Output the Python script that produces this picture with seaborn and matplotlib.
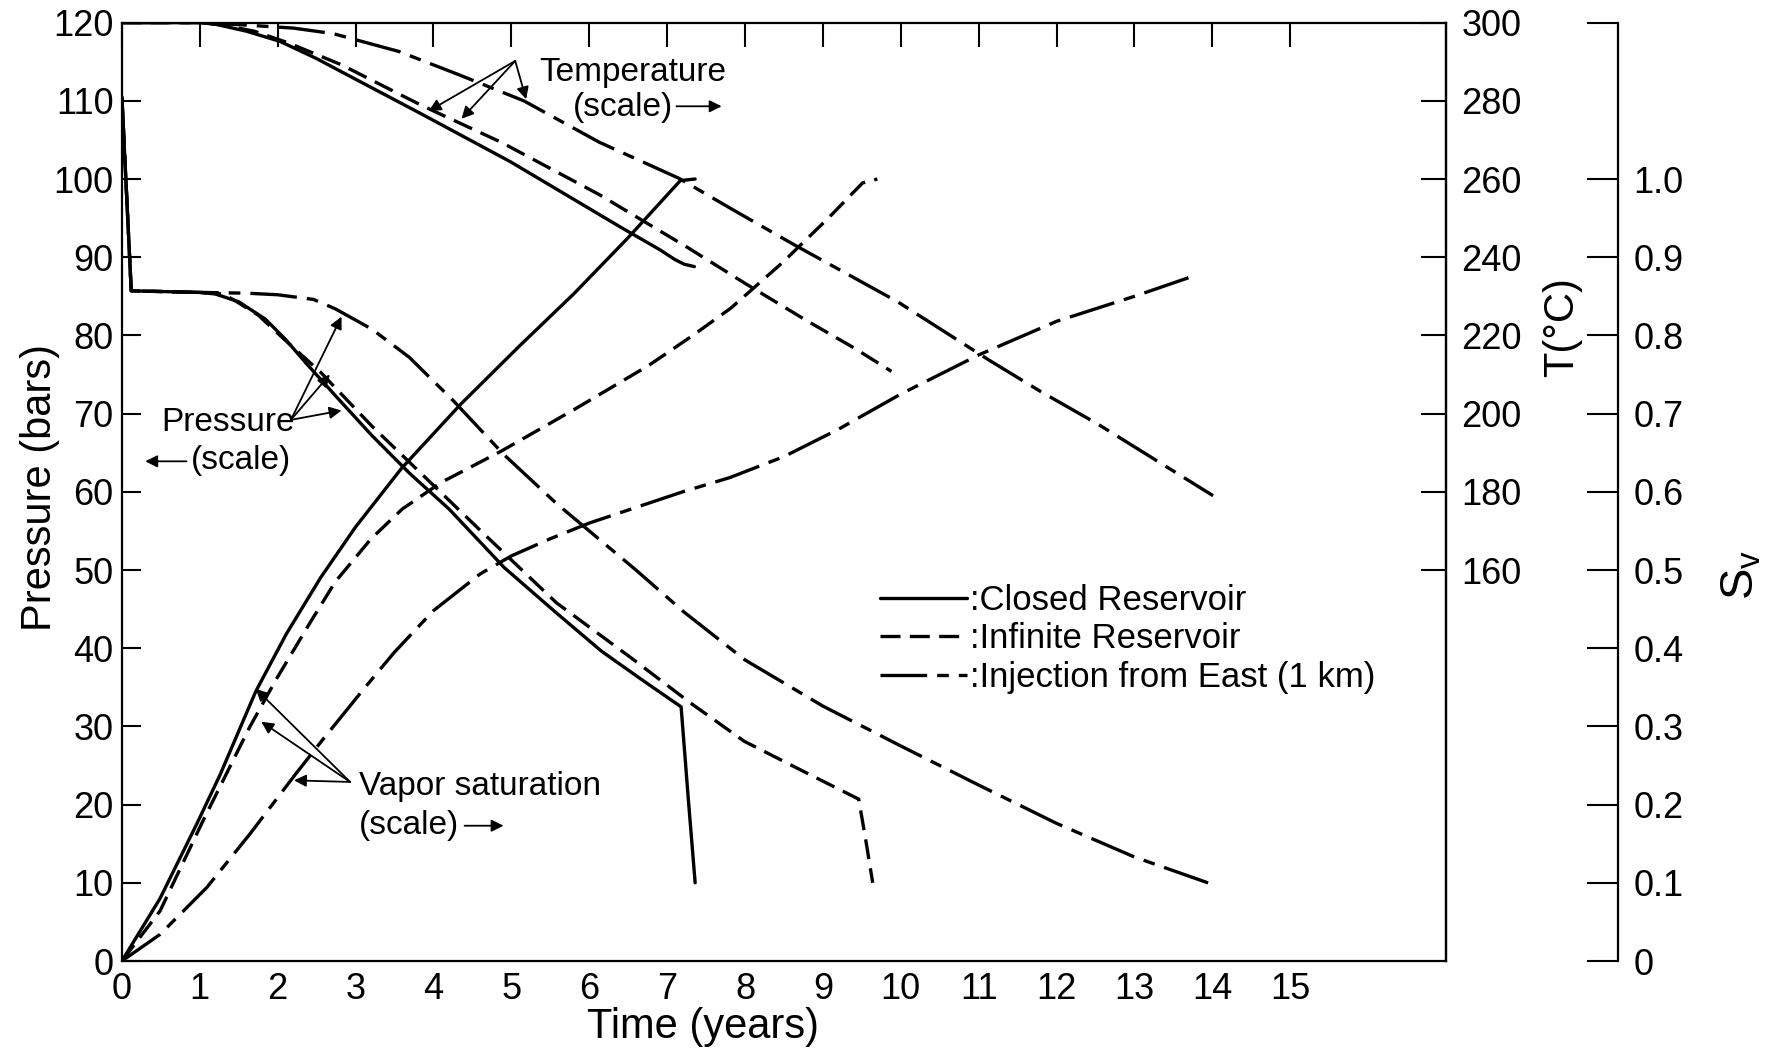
import numpy as np
import pandas as pd
import matplotlib
matplotlib.use("Agg")
import matplotlib.pyplot as plt
from matplotlib.lines import Line2D
import seaborn as sns

# Cases (legend order)
cases = ["Closed Reservoir", "Infinite Reservoir", "Injection from East (1 km)"]

# Pressure (bars) vs time (years)
p_closed_t = [0, 0.12, 1.0, 1.2, 1.5, 1.84, 2.1, 2.36, 2.75, 3.2, 3.69, 4.2, 4.91, 5.58, 6.16, 6.7, 7.18, 7.27, 7.36]
p_closed = [110.5, 85.7, 85.5, 85.3, 84.3, 82.1, 79.5, 76.5, 72.2, 67.3, 62.4, 57.8, 50.3, 44.5, 39.6, 35.8, 32.5, 21.0, 10.0]
p_infinite_t = [0, 0.12, 1.0, 1.3, 1.46, 1.75, 2.03, 2.55, 3.21, 3.92, 4.64, 5.58, 6.52, 7.3, 7.99, 8.8, 9.46, 9.55, 9.64]
p_infinite = [110.5, 85.7, 85.5, 85.3, 84.4, 82.6, 80.0, 75.3, 68.4, 61.6, 54.7, 45.8, 38.9, 33.0, 28.1, 24.0, 20.7, 15.5, 10.0]
p_inject_t = [0, 0.12, 1.0, 1.6, 2.0, 2.46, 2.74, 3.21, 3.69, 4.26, 4.9, 5.58, 6.0, 6.6, 7.22, 8.0, 9.0, 10.0, 11.0, 12.0, 13.0, 14.0]
p_inject = [110.5, 85.7, 85.5, 85.4, 85.2, 84.6, 83.4, 80.8, 77.2, 71.6, 64.8, 58.5, 55.0, 50.0, 44.6, 38.5, 32.6, 27.5, 22.5, 17.6, 13.3, 9.8]

# Temperature (deg C) vs time
t_closed_t = [0, 1.0, 1.2, 1.6, 2.03, 2.5, 3.05, 3.85, 4.99, 6.41, 6.9, 7.1, 7.22, 7.35]
t_closed = [300, 300, 299.6, 297.8, 295.2, 290.8, 285, 276.6, 264.4, 247.6, 242, 239.4, 238.2, 237.6]
t_infinite_t = [0, 1.0, 1.29, 1.7, 2.14, 2.82, 3.85, 4.87, 6.13, 7.27, 8.01, 8.79, 9.4, 9.88]
t_infinite = [300, 300, 299.4, 297.8, 294.8, 289.2, 278.8, 269.4, 256, 242.4, 233.2, 223.8, 216.8, 210.8]
t_inject_t = [0, 1.0, 1.57, 2.2, 2.71, 3.56, 4.31, 5.16, 6.13, 7.15, 7.84, 8.63, 9.96, 11.14, 11.8, 12.54, 14.01]
t_inject = [300, 300, 299.4, 298.6, 297.2, 292.6, 286.8, 280, 269.4, 260.2, 252.2, 243.2, 228.6, 213.6, 205.6, 197.2, 179]

# Vapor saturation vs time
s_closed_t = [0, 0.49, 0.96, 1.26, 1.72, 2.11, 2.55, 3.0, 3.59, 4.35, 5.11, 5.8, 6.5, 7.17, 7.36]
s_closed = [0, 0.08, 0.175, 0.238, 0.345, 0.418, 0.49, 0.555, 0.63, 0.712, 0.787, 0.853, 0.925, 0.998, 1.0]
s_infinite_t = [0, 0.49, 1.04, 1.64, 1.98, 2.40, 2.74, 3.2, 3.6, 4.1, 4.87, 5.82, 6.77, 7.33, 7.82, 8.48, 9.07, 9.51, 9.70]
s_infinite = [0, 0.064, 0.179, 0.299, 0.36, 0.43, 0.485, 0.54, 0.578, 0.612, 0.652, 0.706, 0.762, 0.80, 0.835, 0.893, 0.95, 0.995, 1.0]
s_inject_t = [0, 0.49, 1.09, 1.64, 2.23, 2.57, 3.09, 3.5, 4.0, 4.6, 5.0, 5.5, 6.0, 6.6, 7.2, 7.8, 8.5, 9.2, 10.0, 11.0, 12.0, 13.0, 13.76]
s_inject = [0, 0.034, 0.094, 0.162, 0.239, 0.282, 0.346, 0.395, 0.448, 0.495, 0.518, 0.54, 0.56, 0.58, 0.60, 0.618, 0.645, 0.68, 0.725, 0.775, 0.818, 0.85, 0.876]

x_ticks = list(range(0, 16))
p_ticks = list(range(0, 130, 10))
temp_ticks = list(range(160, 320, 20))
sv_ticks = [0, 0.1, 0.2, 0.3, 0.4, 0.5, 0.6, 0.7, 0.8, 0.9, 1.0, 1.2]
sv_labels = ["0", "0.1", "0.2", "0.3", "0.4", "0.5", "0.6", "0.7", "0.8", "0.9", "1.0", ""]


def long_form(pairs):
    frames = []
    for name, (tt, vv) in zip(cases, pairs):
        frames.append(pd.DataFrame({"time": tt, "value": vv, "case": name}))
    return pd.concat(frames, ignore_index=True)


pressure_df = long_form([(p_closed_t, p_closed), (p_infinite_t, p_infinite), (p_inject_t, p_inject)])
temp_df = long_form([(t_closed_t, t_closed), (t_infinite_t, t_infinite), (t_inject_t, t_inject)])
sat_df = long_form([(s_closed_t, s_closed), (s_infinite_t, s_infinite), (s_inject_t, s_inject)])

sns.set_theme(style="white", rc={"axes.edgecolor": "black", "text.color": "black",
                                 "xtick.color": "black", "ytick.color": "black",
                                 "axes.labelcolor": "black"})
plt.rcParams["font.family"] = ["Liberation Sans", "DejaVu Sans"]

LW = 2.4
dash_map = {cases[0]: "", cases[1]: (6, 2.8), cases[2]: (14, 3, 3.5, 3)}

fig = plt.figure(figsize=(17.69, 10.52), dpi=100)
ax = fig.add_axes([0.0689, 0.0865, 0.8174 - 0.0689, 0.9785 - 0.0865])
ax_t = ax.twinx()
ax_s = ax.twinx()

common = dict(x="time", y="value", style="case", dashes=dash_map, color="black",
              estimator=None, sort=False, legend=False, linewidth=LW)
sns.lineplot(data=pressure_df, ax=ax, **common)
sns.lineplot(data=temp_df, ax=ax_t, **common)
sns.lineplot(data=sat_df, ax=ax_s, **common)

# main (pressure) axis
ax.set_xlim(0, 17)
ax.set_ylim(0, 120)
ax.set_xticks(x_ticks)
ax.set_yticks(p_ticks)
ax.tick_params(axis="x", direction="in", top=True, length=17, width=1.5, pad=8, labelsize=26)
ax.tick_params(axis="y", direction="in", right=False, length=14, width=1.5, pad=6, labelsize=26)
for s in ax.spines.values():
    s.set_linewidth(1.6)
ax.set_xlabel("Time (years)", fontsize=30)
ax.set_ylabel("Pressure (bars)", fontsize=30)
ax.xaxis.set_label_coords(0.439, -0.07)
ax.yaxis.set_label_coords(-0.062, 0.505)
ax.xaxis.label.set_va("center")
ax.yaxis.label.set_va("center")

# temperature axis
ax_t.set_ylim(60, 300)
ax_t.set_yticks(temp_ticks)
ax_t.tick_params(axis="y", direction="in", length=18, width=1.5, pad=11, labelsize=26)
for side in ["left", "top", "bottom"]:
    ax_t.spines[side].set_visible(False)
ax_t.spines["right"].set_linewidth(1.6)
ax_t.set_ylabel("T(°C)", fontsize=30)
ax_t.yaxis.set_label_coords(1.0876, 0.676)
ax_t.yaxis.label.set_va("center")
ax_t.yaxis.label.set_ha("center")
ax_t.yaxis.label.set_rotation(90)

# vapor saturation axis
ax_s.set_ylim(0, 1.2)
ax_s.spines["right"].set_position(("axes", 1.13))
for side in ["left", "top", "bottom"]:
    ax_s.spines[side].set_visible(False)
ax_s.spines["right"].set_linewidth(1.6)
ax_s.set_yticks(sv_ticks)
ax_s.set_yticklabels(sv_labels)
ax_s.tick_params(axis="y", direction="in", length=22, width=1.5, pad=11, labelsize=26)
ax_s.set_ylabel("S$_\\mathregular{v}$", fontsize=34)
ax_s.yaxis.set_label_coords(1.223, 0.411)
ax_s.yaxis.label.set_va("center")
ax_s.yaxis.label.set_ha("center")
ax_s.yaxis.label.set_rotation(90)

# annotations (pressure-axis coordinates)
arrow = dict(arrowstyle="-|>", color="black", lw=1.3, mutation_scale=18, shrinkA=0, shrinkB=0)
fs = 24
for head in [(3.94, 108.7), (4.36, 107.7), (5.19, 110.2)]:
    ax.annotate("", xy=head, xytext=(5.05, 115.1), arrowprops=arrow)
ax.text(5.36, 113.6, "Temperature", fontsize=fs, va="center", ha="left")
ax.text(5.79, 109.2, "(scale)", fontsize=fs, va="center", ha="left")
ax.annotate("", xy=(7.7, 109.3), xytext=(7.12, 109.3), arrowprops=arrow)

for head in [(2.82, 82.4), (2.67, 75.0), (2.82, 70.4)]:
    ax.annotate("", xy=head, xytext=(2.17, 69.2), arrowprops=arrow)
ax.text(0.51, 68.8, "Pressure", fontsize=fs, va="center", ha="left")
ax.text(0.89, 64.0, "(scale)", fontsize=fs, va="center", ha="left")
ax.annotate("", xy=(0.3, 63.9), xytext=(0.83, 63.9), arrowprops=arrow)

for head in [(1.72, 34.8), (1.79, 30.6), (2.21, 23.1)]:
    ax.annotate("", xy=head, xytext=(2.93, 22.9), arrowprops=arrow)
ax.text(3.04, 22.3, "Vapor saturation", fontsize=fs, va="center", ha="left")
ax.text(3.04, 17.3, "(scale)", fontsize=fs, va="center", ha="left")
ax.annotate("", xy=(4.9, 17.3), xytext=(4.4, 17.3), arrowprops=arrow)

# legend
handles = []
for c in cases:
    d = dash_map[c]
    if d == "":
        handles.append(Line2D([], [], color="black", lw=LW, linestyle="-"))
    else:
        handles.append(Line2D([], [], color="black", lw=LW, dashes=d))
ax.legend(handles, [":" + c for c in cases], loc="upper left", bbox_to_anchor=(0.5725, 0.402),
          frameon=False, fontsize=25, handlelength=2.5, handletextpad=0.1,
          labelspacing=0.16, borderpad=0, borderaxespad=0)

fig.savefig("out.png", dpi=100)
